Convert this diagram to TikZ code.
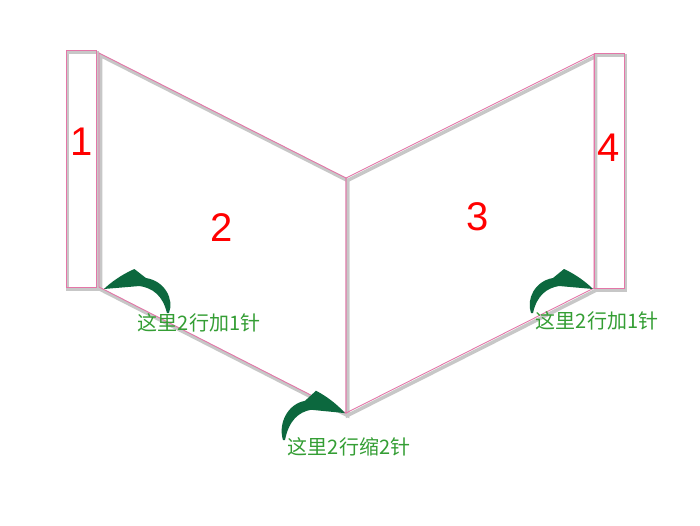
\documentclass[tikz,border=0pt]{standalone}
\usepackage{fontspec}
\newfontfamily\cjk{Noto Sans CJK SC}
\newfontfamily\numfont{Liberation Sans}
\usetikzlibrary{calc}
\definecolor{edgepink}{RGB}{228,118,168}
\definecolor{arrowgreen}{RGB}{12,104,62}
\definecolor{notegreen}{RGB}{52,158,52}

\begin{document}
\begin{tikzpicture}[x=1pt, y=-1pt,
            every node/.style={inner sep=0pt},
            num/.style={text=red, font=\numfont\fontsize{40}{40}\selectfont},
            note/.style={text=notegreen, font=\cjk\fontsize{20}{20}\selectfont},
            rim/.style={draw=edgepink, line width=0.9pt},
            drop/.style={draw=black!22, line width=3.5pt, transform canvas={shift={(1.5pt,-2.5pt)}}},
            bendarrow/.pic={\fill[arrowgreen] (0,0) .. controls (-5,-14) and (4,-32) .. (22,-35)
                -- (33,-44) .. controls (46,-38) and (56,-30) .. (62,-24) -- (28,-27)
                .. controls (16,-25) and (6,-18) .. (2,0) -- cycle;}]
        \useasboundingbox[fill=white] (0,0) rectangle (700,525);
        % corners of the pieces
        \coordinate (a1) at (66,50);   \coordinate (b1) at (96,287);
        \coordinate (p2a) at (99,53);  \coordinate (p2d) at (99,287);
        \coordinate (m1) at (346,178); \coordinate (m2) at (346,413);
        \coordinate (p3b) at (594,54); \coordinate (p3c) at (594,288);
        \coordinate (a4) at (594,53);  \coordinate (b4) at (624,288);
        \foreach \s in {drop,rim} {
            \draw[\s] (a1) rectangle (b1);
            \draw[\s] (p2a) -- (m1) -- (m2) -- (p2d) -- cycle;
            \draw[\s] (m1) -- (p3b) -- (p3c) -- (m2) -- cycle;
            \draw[\s] (a4) rectangle (b4);
        }
        \node[num] (n1) at (82,142) {1};
        \node[num] (n2) at (222,228) {2};
        \node[num] (n3) at (478,217) {3};
        \node[num] (n4) at (609,148) {4};
        % arrows
        \coordinate (t1) at (169,313);
        \coordinate (t2) at (283,440);
        \coordinate (t3) at (531,313);
        \pic[xscale=-1.05] at (t1) {bendarrow};
        \pic[yscale=1.12] at (t2) {bendarrow};
        \pic at (t3) {bendarrow};
        \node[note] (c1) at (199,323) {这里2行加1针};
        \node[note] (c2) at (349,447) {这里2行缩2针};
        \node[note] (c3) at (597,321) {这里2行加1针};
\end{tikzpicture}
\end{document}
